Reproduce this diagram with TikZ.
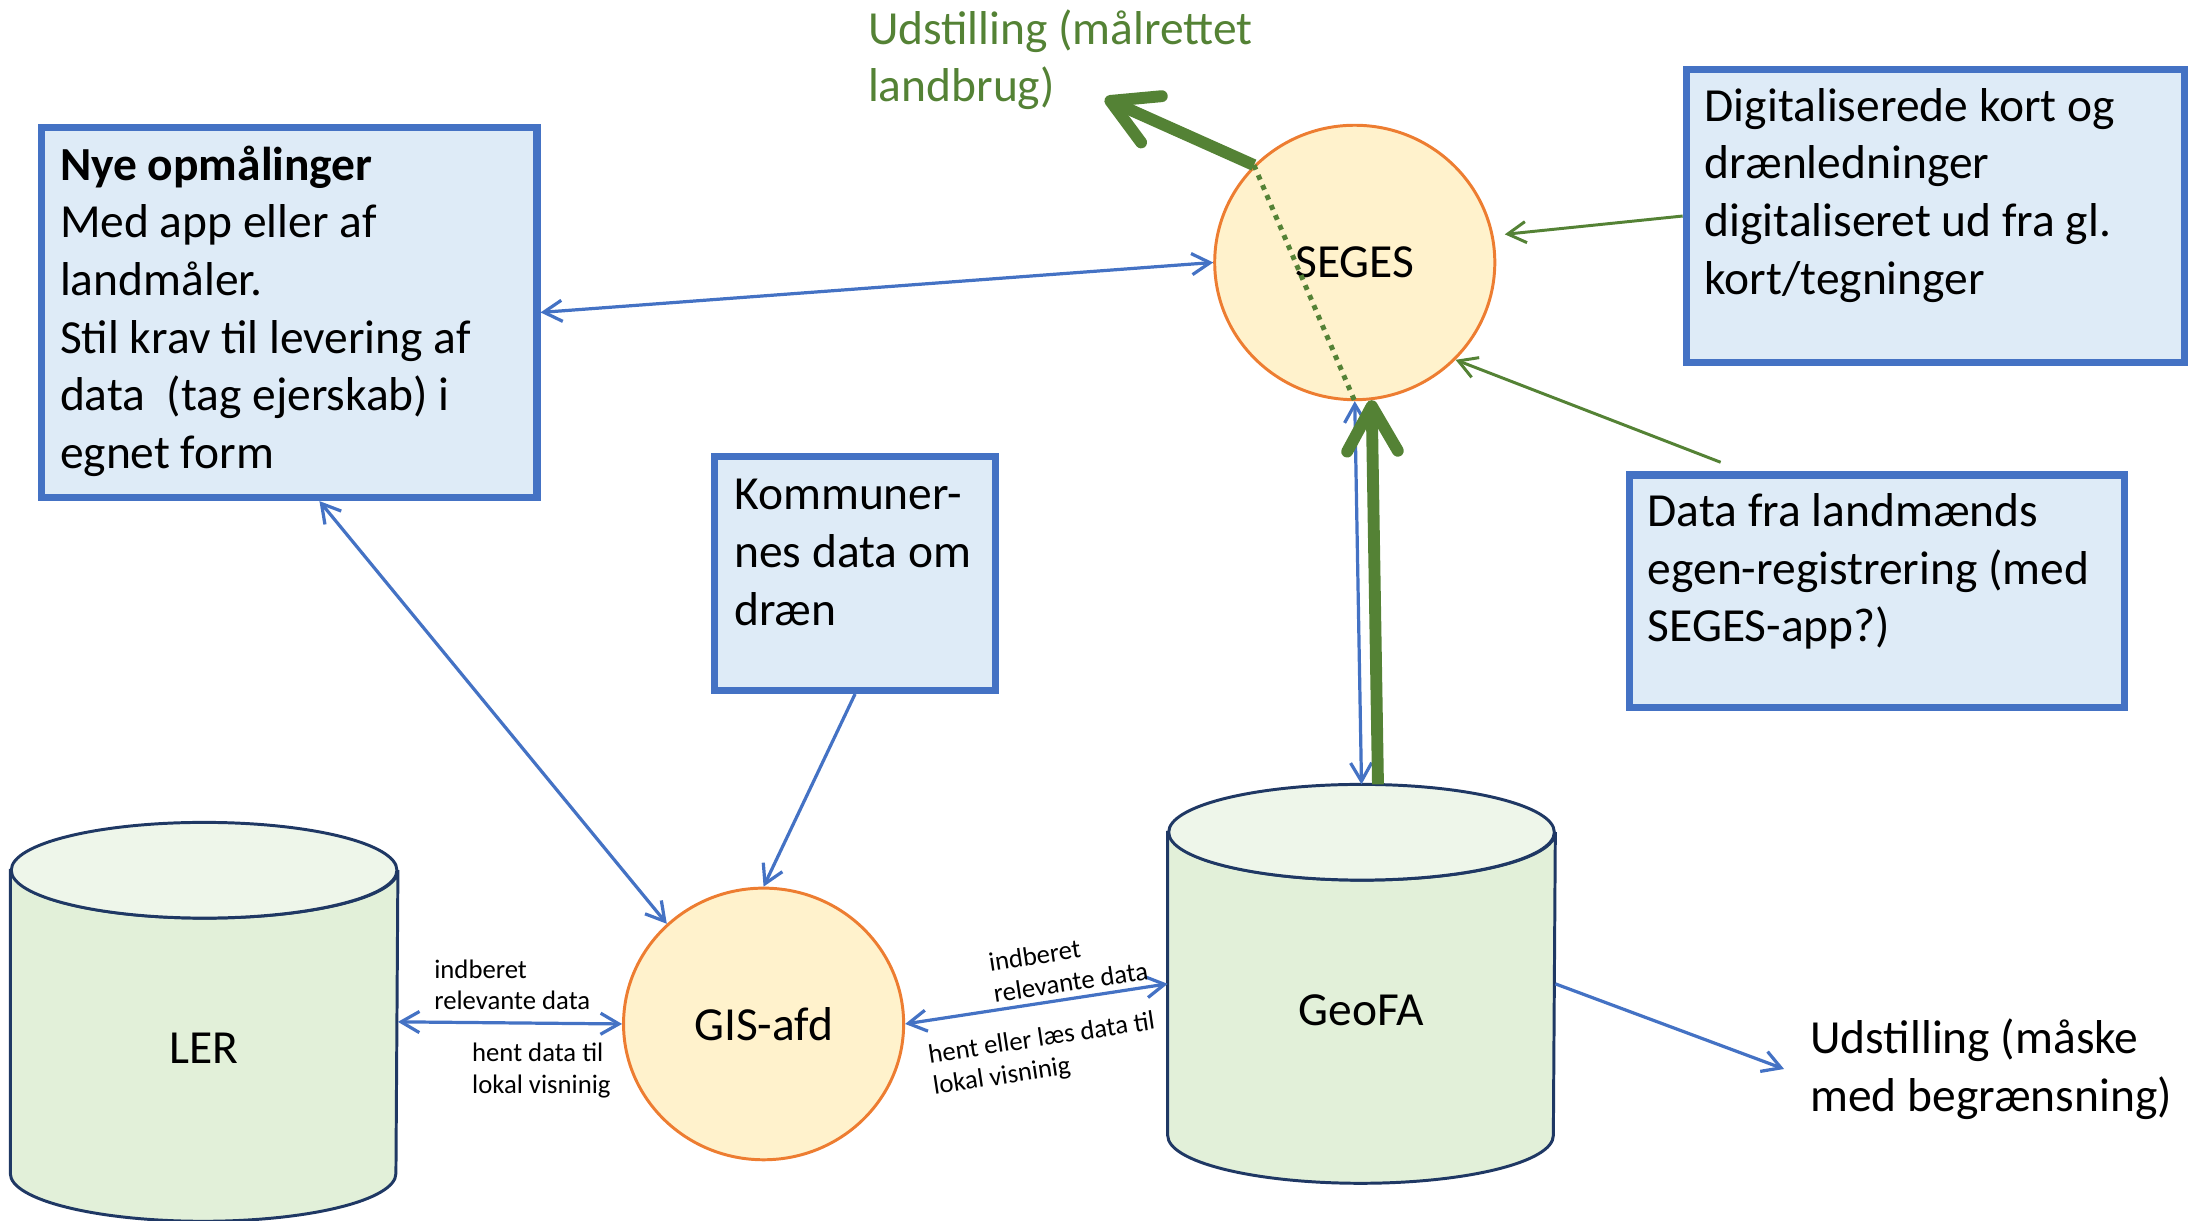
\documentclass[tikz,border=0pt]{standalone}
\usepackage{fontspec}
\setmainfont{Carlito}
\usetikzlibrary{arrows.meta,shapes.geometric}

\definecolor{boxblue}{HTML}{4472C4}
\definecolor{boxfill}{HTML}{DEEBF7}
\definecolor{hubfill}{HTML}{FFF2CC}
\definecolor{hubline}{HTML}{ED7D31}
\definecolor{dbline}{HTML}{1F3864}
\definecolor{dbbody}{HTML}{E2F0D9}
\definecolor{dbtop}{HTML}{EEF6EA}
\definecolor{grn}{HTML}{548235}

\tikzset{
  txt/.style={font=\fontsize{9.6}{11.65}\selectfont},
  infobox/.style={draw=boxblue, fill=boxfill, line width=1.45pt, inner sep=0pt},
  infotext/.style={txt, anchor=north west, inner sep=0pt, align=left},
  hub/.style={txt, ellipse, draw=hubline, fill=hubfill, line width=0.6pt, inner sep=0pt},
  dbnode/.style={inner sep=0pt, minimum width=2.74cm, minimum height=2.82cm},
  edgetext/.style={font=\fontsize{5.4}{6.4}\selectfont, align=left, inner sep=0pt},
  flow/.style={draw=boxblue, line width=0.65pt},
  feed/.style={draw=grn, line width=0.6pt},
  bigflow/.style={draw=grn, line width=2.4pt, -{Straight Barb[length=3.2mm,width=3.6mm,round]}}
}

\begin{document}
\begin{tikzpicture}[>={Straight Barb[length=1.3mm,width=1.5mm]}]
\useasboundingbox (0,0) rectangle (15.68,8.67);

% boxes with text
\node[infobox, minimum width=3.52cm, minimum height=2.63cm] (nye) at (2.055,6.45) {};
\node[infotext] (nyetxt) at ([shift={(0.15,-0.15)}]nye.north west) {\textbf{Nye opmålinger}\\Med app eller af\\landmåler.\\Stil krav til levering af\\data\ \ (tag ejerskab) i\\egnet form};
\node[infobox, minimum width=3.54cm, minimum height=2.08cm] (dig) at (13.75,7.135) {};
\node[infotext] (digtxt) at ([shift={(0.15,-0.15)}]dig.north west) {Digitaliserede kort og\\drænledninger\\digitaliseret ud fra gl.\\kort/tegninger};
\node[infobox, minimum width=3.52cm, minimum height=1.65cm] (land) at (13.335,4.47) {};
\node[infotext] (landtxt) at ([shift={(0.15,-0.15)}]land.north west) {Data fra landmænds\\egen-registrering (med\\SEGES-app?)};
\node[infobox, minimum width=2.00cm, minimum height=1.66cm] (kom) at (6.075,4.595) {};
\node[infotext] (komtxt) at ([shift={(0.16,-0.18)}]kom.north west) {Kommuner-\\nes data om\\dræn};

% hubs
\node[hub, minimum width=1.99cm, minimum height=1.95cm] (seges) at (9.625,6.805) {SEGES};
\node[hub, minimum width=1.99cm, minimum height=1.93cm] (gis) at (5.425,1.395) {GIS-afd};

% databases
\node[dbnode] (ler) at (1.45,1.41) {};
\node[dbnode] (geofa) at (9.673,1.68) {};
\foreach \db in {ler,geofa}{
  \filldraw[draw=dbline, fill=dbbody, line width=0.6pt] ([yshift=-3.4mm]\db.north west) -- ([yshift=3.4mm]\db.south west)
    arc[start angle=180, end angle=360, x radius=1.37cm, y radius=3.4mm] -- ([yshift=-3.4mm]\db.north east)
    arc[start angle=0, end angle=-180, x radius=1.37cm, y radius=3.4mm] -- cycle;
  \filldraw[draw=dbline, fill=dbtop, line width=0.6pt] ([yshift=-3.4mm]\db.north) ellipse[x radius=1.37cm, y radius=3.4mm];
}
\node[txt] (lertxt) at ([yshift=-1.9mm]ler.center) {LER};
\node[txt] (geofatxt) at ([yshift=-1.9mm]geofa.center) {GeoFA};

% outputs
\node[infotext, text=grn] (udstland) at (6.16,8.61) {Udstilling (målrettet\\landbrug)};
\coordinate (udsttip) at (7.85,7.97);
\node[txt, anchor=west, inner xsep=1.8mm, inner ysep=0pt, align=left] (udst) at (12.675,1.075) {Udstilling (måske\\med begrænsning)};

% connectors
\draw[flow,<->] (nye.east) -- (seges.west);
\draw[flow,<->] ([xshift=2cm]nye.south west) -- (gis.134);
\draw[flow,->] (kom.south) -- (gis.north);
\draw[flow,<->] (ler.east) -- node[edgetext, pos=.51, above=0.8mm] (lerup) {indberet\\relevante data}
  node[edgetext, pos=.64, below=1.3mm] (lerdown) {hent data til\\lokal visninig} (gis.west);
\draw[flow,<->] (gis.east) -- node[edgetext, sloped, pos=.64, above=0.4mm] (geoup) {indberet\\relevante data}
  node[edgetext, sloped, pos=.5, below=1.6mm] (geodown) {hent eller læs data til\\lokal visninig} (geofa.west);
\draw[flow,->] (geofa.east) -- (udst.west);
\draw[flow,<->] (seges.south) -- (geofa.north);
\draw[feed,->,shorten >=0.8mm] (dig.west) -- (seges.11.5);
\draw[feed,->] ([shift={(0.675,0.065)}]land.north west) -- (seges.-44);
\draw[grn, line width=1pt, dash pattern=on 1pt off 1.2pt] (seges.136) -- (seges.south);
\draw[bigflow] ([xshift=1.17mm]geofa.north) -- (seges.-83);
\draw[bigflow] (seges.136) -- (udsttip);
\end{tikzpicture}
\end{document}
